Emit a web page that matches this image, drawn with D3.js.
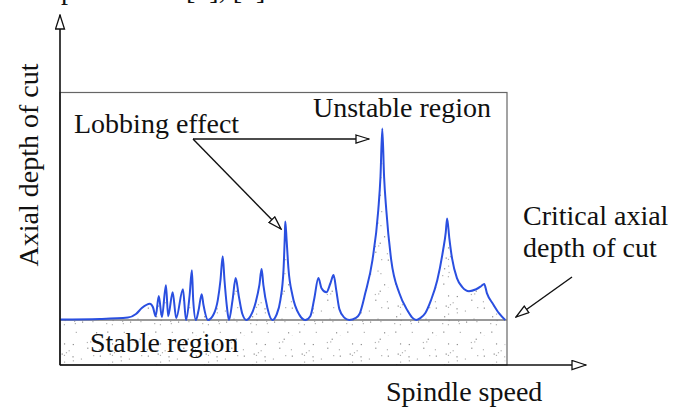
<!DOCTYPE html>
<html>
<head>
<meta charset="utf-8">
<script src="https://cdn.jsdelivr.net/npm/d3@7/dist/d3.min.js"></script>
<style>
  body { margin: 0; background: #fff; }
  text { font-family: "Liberation Serif", "Times New Roman", "DejaVu Serif", serif; fill: #111; }
</style>
</head>
<body>
<div id="container"></div>
<script>
// spindle speed (arbitrary units, 0-100 across the plot box)
const speed = [
  0, 8.9, 15.2, 17.0, 18.3, 20.1, 20.8, 21.4, 22.1, 22.8,
  23.7, 24.2, 25.2, 26.0, 27.5, 28.2, 29.0, 29.5, 29.8, 30.4,
  31.0, 31.7, 32.1, 33.1, 34.4, 35.3, 35.9, 36.4, 36.8, 37.3,
  37.8, 38.6, 39.3, 40.0, 40.8, 41.7, 42.6, 43.8, 44.6, 45.1,
  45.5, 46.4, 47.5, 48.4, 49.3, 50.0, 50.3, 50.4, 50.7, 51.1,
  52.0, 53.6, 54.9, 56.0, 56.9, 57.8, 58.5, 59.6, 60.5, 61.2,
  61.8, 62.5, 63.6, 64.7, 66.1, 67.0, 68.3, 69.9, 71.2, 71.7,
  72.1, 72.5, 73.0, 74.1, 75.9, 77.7, 78.8, 79.7, 80.6, 81.7,
  83.0, 84.4, 85.7, 86.3, 86.6, 87.1, 87.7, 88.8, 90.0, 91.5,
  93.1, 94.2, 94.9, 95.5, 96.9, 98.2, 99.6
];
// stability limit: axial depth of cut (arbitrary units, 0-100 across the box)
const depth = [
  16.7, 16.9, 17.4, 18.7, 20.9, 22.5, 21.2, 17.9, 25.3, 17.6,
  29.3, 17.9, 26.7, 17.2, 27.8, 16.5, 25.6, 34.8, 23.8, 16.5,
  20.1, 26.0, 22.0, 16.5, 18.7, 23.8, 31.1, 39.9, 31.1, 22.0,
  16.5, 23.8, 31.9, 25.3, 18.7, 16.5, 17.9, 23.1, 29.3, 35.2,
  29.3, 20.9, 16.5, 18.3, 23.8, 34.8, 47.6, 52.7, 45.8, 35.5,
  25.6, 18.3, 16.5, 17.9, 24.5, 31.9, 28.2, 26.7, 30.0, 33.0,
  27.5, 20.5, 17.4, 16.5, 17.2, 18.7, 26.4, 38.5, 56.8, 69.2,
  86.8, 69.2, 56.8, 38.5, 26.4, 20.1, 17.4, 16.5, 17.2, 19.0,
  23.8, 31.1, 42.1, 48.7, 53.8, 46.5, 39.2, 31.9, 28.6, 27.1,
  27.8, 28.9, 29.7, 26.4, 22.3, 19.0, 16.5
];
const criticalDepth = 16.5;

const width = 689;
const height = 408;
const box = { left: 60, top: 92.5, right: 507, bottom: 365 };
const serif = '"Liberation Serif", "Times New Roman", serif';

const svg = d3.select("#container")
  .append("svg")
  .attr("width", width)
  .attr("height", height);

const x = d3.scaleLinear().domain([0, 100]).range([box.left, box.right]);
const y = d3.scaleLinear().domain([0, 100]).range([box.bottom, box.top]);

const defs = svg.append("defs");

// stipple texture (fixed pseudo-random dot layout, decoration only)
const pat = defs.append("pattern")
  .attr("id", "stipple")
  .attr("patternUnits", "userSpaceOnUse")
  .attr("width", 48)
  .attr("height", 48);
let seed = 7;
const rnd = () => (seed = (seed * 16807) % 2147483647) / 2147483647;
for (let i = 0; i < 30; i++) {
  pat.append("rect")
    .attr("x", rnd() * 48)
    .attr("y", rnd() * 48)
    .attr("width", 1.2)
    .attr("height", 1.2)
    .attr("fill", rnd() < 0.5 ? "#8a8a8a" : "#b0b0b0");
}

// hollow arrow heads
function arrowMarker(id, len, wid) {
  defs.append("marker")
    .attr("id", id)
    .attr("markerUnits", "userSpaceOnUse")
    .attr("viewBox", `0 0 ${len + 2} ${wid + 2}`)
    .attr("refX", len + 1)
    .attr("refY", wid / 2 + 1)
    .attr("markerWidth", len + 2)
    .attr("markerHeight", wid + 2)
    .attr("orient", "auto")
    .append("path")
    .attr("d", `M1,1 L${len + 1},${wid / 2 + 1} L1,${wid + 1} Z`)
    .attr("fill", "#fff")
    .attr("stroke", "#111")
    .attr("stroke-width", 1.3);
}
arrowMarker("head", 13, 8);
arrowMarker("headBig", 14, 9);

const pts = speed.map((s, i) => [s, depth[i]]);

// stippled area below the stability limit
svg.append("path")
  .datum(pts)
  .attr("fill", "url(#stipple)")
  .attr("d", d3.area()
    .x(d => x(d[0]))
    .y0(y(0))
    .y1(d => y(d[1]))
    .curve(d3.curveMonotoneX));

// plot box
svg.append("rect")
  .attr("x", box.left)
  .attr("y", box.top)
  .attr("width", box.right - box.left)
  .attr("height", box.bottom - box.top)
  .attr("fill", "none")
  .attr("stroke", "#666")
  .attr("stroke-width", 1.2);

// critical depth line
svg.append("line")
  .attr("x1", x(0)).attr("x2", x(100))
  .attr("y1", y(criticalDepth)).attr("y2", y(criticalDepth))
  .attr("stroke", "#777")
  .attr("stroke-width", 1.6);

// stability lobes
svg.append("path")
  .datum(pts)
  .attr("fill", "none")
  .attr("stroke", "#2a4fe0")
  .attr("stroke-width", 2)
  .attr("stroke-linejoin", "round")
  .attr("d", d3.line()
    .x(d => x(d[0]))
    .y(d => y(d[1]))
    .curve(d3.curveMonotoneX));

// axes with arrow heads
svg.append("line")
  .attr("x1", box.left).attr("y1", box.bottom)
  .attr("x2", box.left).attr("y2", 15)
  .attr("stroke", "#111").attr("stroke-width", 1.6)
  .attr("marker-end", "url(#headBig)");
svg.append("line")
  .attr("x1", box.left).attr("y1", box.bottom)
  .attr("x2", 586).attr("y2", box.bottom)
  .attr("stroke", "#111").attr("stroke-width", 1.6)
  .attr("marker-end", "url(#headBig)");

// annotation arrows
const arrows = [
  [193, 139, 369, 139],
  [193, 139, 281, 229],
  [572, 277, 516, 317]
];
svg.selectAll(".ann")
  .data(arrows)
  .join("line")
  .attr("class", "ann")
  .attr("x1", d => d[0]).attr("y1", d => d[1])
  .attr("x2", d => d[2]).attr("y2", d => d[3])
  .attr("stroke", "#111")
  .attr("stroke-width", 1.4)
  .attr("marker-end", "url(#head)");

// labels (the top line is a caption cut off by the picture's upper edge)
const fs = 28;
const labels = [
  { t: "Lobbing effect", x: 74, y: 133 },
  { t: "Unstable region", x: 313, y: 117 },
  { t: "Stable region", x: 90, y: 352 },
  { t: "Spindle speed", x: 386, y: 401 },
  { t: "Critical axial", x: 523, y: 225 },
  { t: "depth of cut", x: 523, y: 257 },
  { t: "p", x: 61, y: -1 },
  { t: "[1], [2]", x: 186, y: -1 }
];
svg.selectAll(".lbl")
  .data(labels)
  .join("text")
  .attr("class", "lbl")
  .attr("x", d => d.x)
  .attr("y", d => d.y)
  .attr("font-family", serif)
  .attr("font-size", fs)
  .text(d => d.t);

svg.append("text")
  .attr("transform", "translate(38,165) rotate(-90)")
  .attr("text-anchor", "middle")
  .attr("font-family", serif)
  .attr("font-size", fs)
  .text("Axial depth of cut");
</script>
</body>
</html>
